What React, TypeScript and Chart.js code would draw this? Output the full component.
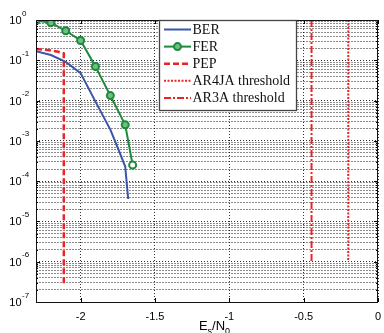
import React, { useEffect, useRef } from 'react';
import { Chart, registerables } from 'chart.js';

Chart.register(...registerables);

// ---- data ----
const berX = [-2.3, -2.2, -2.1, -2.0, -1.9, -1.8, -1.75, -1.7, -1.68];
const berY = [0.167, 0.135, 0.091, 0.048, 0.0094, 0.0019, 6.7e-4, 2.3e-4, 3.6e-5];

const ferX = [-2.3, -2.2, -2.1, -2.0, -1.9, -1.8, -1.7, -1.65];
const ferY = [0.97, 0.86, 0.54, 0.31, 0.07, 0.0133, 0.0025, 2.5e-4];

const pepX = [-2.3, -2.2, -2.15, -2.113, -2.113];
const pepY = [0.19, 0.176, 0.163, 0.148, 2.7e-7];

const ar4jaX = [-0.2, -0.2];
const ar4jaY = [1, 1e-6];

const ar3aX = [-0.447, -0.447];
const ar3aY = [1, 1e-6];

const seriesLabels = ['BER', 'FER', 'PEP', 'AR4JA threshold', 'AR3A threshold'];

const xTicks = [-2, -1.5, -1, -0.5, 0];
const xTickLabels = ['-2', '-1.5', '-1', '-0.5', '0'];
const yExponents = [0, -1, -2, -3, -4, -5, -6, -7];

const X_MIN = -2.3;
const X_MAX = 0;
const Y_MIN = 1e-7;
const Y_MAX = 1;

const pts = (xs: number[], ys: number[]) => xs.map((x, i) => ({ x, y: ys[i] }));

const isMajor = (v: number) => {
  const l = Math.log10(v);
  return Math.abs(l - Math.round(l)) < 1e-6;
};

const buildYTicks = () => {
  const t: { value: number }[] = [];
  const minE = Math.min(...yExponents);
  const maxE = Math.max(...yExponents);
  for (let e = minE; e < maxE; e++) {
    for (let k = 1; k <= 9; k++) t.push({ value: k * Math.pow(10, e) });
  }
  t.push({ value: Math.pow(10, maxE) });
  return t;
};

const SANS = '"Liberation Sans", Arial, sans-serif';
const SERIF = '"Liberation Serif", "Times New Roman", serif';

const decorPlugin = {
  id: 'decor',
  afterDatasetsDraw(chart: any) {
    const { ctx, chartArea: a, scales } = chart;
    const xs = scales.x;
    const ys = scales.y;
    ctx.save();
    ctx.strokeStyle = '#000';
    ctx.lineWidth = 1;
    ctx.setLineDash([]);
    ctx.beginPath();
    ys.ticks.forEach((t: any) => {
      const y = Math.round(ys.getPixelForValue(t.value)) + 0.5;
      const len = isMajor(t.value) ? 4 : 2;
      ctx.moveTo(a.left, y);
      ctx.lineTo(a.left + len, y);
      ctx.moveTo(a.right, y);
      ctx.lineTo(a.right - len, y);
    });
    xs.ticks.forEach((t: any) => {
      const x = Math.round(xs.getPixelForValue(t.value)) + 0.5;
      ctx.moveTo(x, a.bottom);
      ctx.lineTo(x, a.bottom - 4);
      ctx.moveTo(x, a.top);
      ctx.lineTo(x, a.top + 4);
    });
    ctx.stroke();
    ctx.strokeStyle = '#111';
    ctx.strokeRect(Math.round(a.left) + 0.5, Math.round(a.top) + 0.5, Math.round(a.right - a.left) - 1, Math.round(a.bottom - a.top));
    ctx.restore();
  },
  afterDraw(chart: any) {
    const { ctx, chartArea: a, scales } = chart;
    const xs = scales.x;
    const ys = scales.y;
    ctx.save();
    ctx.fillStyle = '#000';
    yExponents.forEach((e) => {
      const y = ys.getPixelForValue(Math.pow(10, e));
      ctx.font = `11px ${SANS}`;
      ctx.textAlign = 'right';
      ctx.textBaseline = 'alphabetic';
      ctx.fillText('10', 21.5, y + 4);
      ctx.font = `8px ${SANS}`;
      ctx.textAlign = 'left';
      ctx.fillText(String(e), 22, y - 4.5);
    });
    ctx.font = `11px ${SANS}`;
    ctx.textAlign = 'center';
    xTicks.forEach((v, i) => {
      const x = xs.getPixelForValue(v);
      ctx.fillText(xTickLabels[i], x, a.bottom + 18);
    });
    const big = `13px ${SANS}`;
    const small = `9px ${SANS}`;
    const parts: [string, string, number][] = [
      ['E', big, 0],
      ['s', small, 4.5],
      ['/N', big, 0],
      ['0', small, 4.5],
    ];
    let w = 0;
    parts.forEach(([s, f]) => {
      ctx.font = f;
      w += ctx.measureText(s).width;
    });
    let cx = 214.5 - w / 2;
    const base = a.bottom + 27.5;
    ctx.textAlign = 'left';
    parts.forEach(([s, f, dy]) => {
      ctx.font = f;
      ctx.fillText(s, cx, base + dy);
      cx += ctx.measureText(s).width;
    });

    const lx = 159;
    const ly = Math.round(a.top);
    const lw = 137;
    const lh = 90;
    ctx.fillStyle = '#fff';
    ctx.fillRect(lx, ly, lw, lh);
    ctx.strokeStyle = '#444';
    ctx.lineWidth = 1.3;
    ctx.strokeRect(lx + 0.5, ly + 0.5, lw, lh);
    chart.data.datasets.forEach((d: any, i: number) => {
      const y = ly + 9.5 + i * 17.1;
      ctx.strokeStyle = d.borderColor;
      ctx.lineWidth = d.borderWidth;
      ctx.setLineDash(d.borderDash || []);
      ctx.beginPath();
      ctx.moveTo(164, y);
      ctx.lineTo(191, y);
      ctx.stroke();
      ctx.setLineDash([]);
      if (d.pointRadius > 0) {
        ctx.beginPath();
        ctx.arc(177.5, y, d.pointRadius, 0, Math.PI * 2);
        ctx.fillStyle = d.legendPointFill || '#fff';
        ctx.fill();
        ctx.lineWidth = d.pointBorderWidth;
        ctx.strokeStyle = d.borderColor;
        ctx.stroke();
      }
      ctx.fillStyle = '#111';
      ctx.font = `14px ${SERIF}`;
      ctx.textAlign = 'left';
      ctx.fillText(d.label, 192.5, y + 4.5);
    });
    ctx.restore();
  },
};

const BLUE = '#3b55a8';
const GREEN = '#1d8a3c';
const RED = '#ec2227';

export default function App() {
  const ref = useRef<HTMLCanvasElement | null>(null);

  useEffect(() => {
    document.body.style.margin = '0';
    const canvas = ref.current;
    if (!canvas) return;
    const lastFer = ferX.length - 1;
    const chart = new Chart(canvas, {
      type: 'line',
      data: {
        datasets: [
          {
            label: seriesLabels[0],
            data: pts(berX, berY),
            borderColor: BLUE,
            borderWidth: 2,
            pointRadius: 0,
            tension: 0,
          },
          {
            label: seriesLabels[1],
            data: pts(ferX, ferY),
            borderColor: GREEN,
            borderWidth: 2,
            pointRadius: 3.5,
            pointBorderWidth: 2,
            pointBorderColor: GREEN,
            pointBackgroundColor: (c: any) => (c.dataIndex === lastFer ? '#ffffff' : '#6fbf80'),
            legendPointFill: '#6fbf80',
            tension: 0,
          } as any,
          {
            label: seriesLabels[2],
            data: pts(pepX, pepY),
            borderColor: RED,
            borderWidth: 2.5,
            borderDash: [6, 3],
            pointRadius: 0,
            tension: 0,
          },
          {
            label: seriesLabels[3],
            data: pts(ar4jaX, ar4jaY),
            borderColor: RED,
            borderWidth: 2,
            borderDash: [2, 1.5],
            pointRadius: 0,
            tension: 0,
          },
          {
            label: seriesLabels[4],
            data: pts(ar3aX, ar3aY),
            borderColor: RED,
            borderWidth: 2,
            borderDash: [7, 2, 2, 2],
            pointRadius: 0,
            tension: 0,
          },
        ],
      },
      options: {
        responsive: false,
        animation: false,
        devicePixelRatio: 1,
        layout: { padding: { top: 20, right: 2, left: 0, bottom: 0 } },
        plugins: {
          legend: { display: false },
          tooltip: { enabled: false },
        },
        scales: {
          x: {
            type: 'linear',
            min: X_MIN,
            max: X_MAX,
            afterBuildTicks: (s: any) => {
              s.ticks = xTicks.map((v) => ({ value: v }));
            },
            afterFit: (s: any) => {
              s.height = 31;
            },
            ticks: { display: false },
            grid: { color: 'rgba(0,0,0,0.8)', lineWidth: 1, drawTicks: false },
            border: { display: false, dash: [1, 2] },
          },
          y: {
            type: 'logarithmic',
            min: Y_MIN,
            max: Y_MAX,
            afterBuildTicks: (s: any) => {
              s.ticks = buildYTicks();
            },
            afterFit: (s: any) => {
              s.width = 36;
            },
            ticks: { display: false },
            grid: {
              color: (c: any) => (c.tick && isMajor(c.tick.value) ? 'rgba(0,0,0,0.8)' : 'rgba(0,0,0,0.45)'),
              lineWidth: 1,
              drawTicks: false,
            },
            border: {
              display: false,
              dash: (c: any) => (c.tick && isMajor(c.tick.value) ? [1, 2] : [2, 1]),
            },
          },
        },
      } as any,
      plugins: [decorPlugin],
    });
    return () => chart.destroy();
  }, []);

  return (
    <div style={{ position: 'relative', width: 384, height: 333, background: '#fff' }}>
      <canvas ref={ref} width={384} height={333} style={{ display: 'block', width: 384, height: 333 }} />
    </div>
  );
}
